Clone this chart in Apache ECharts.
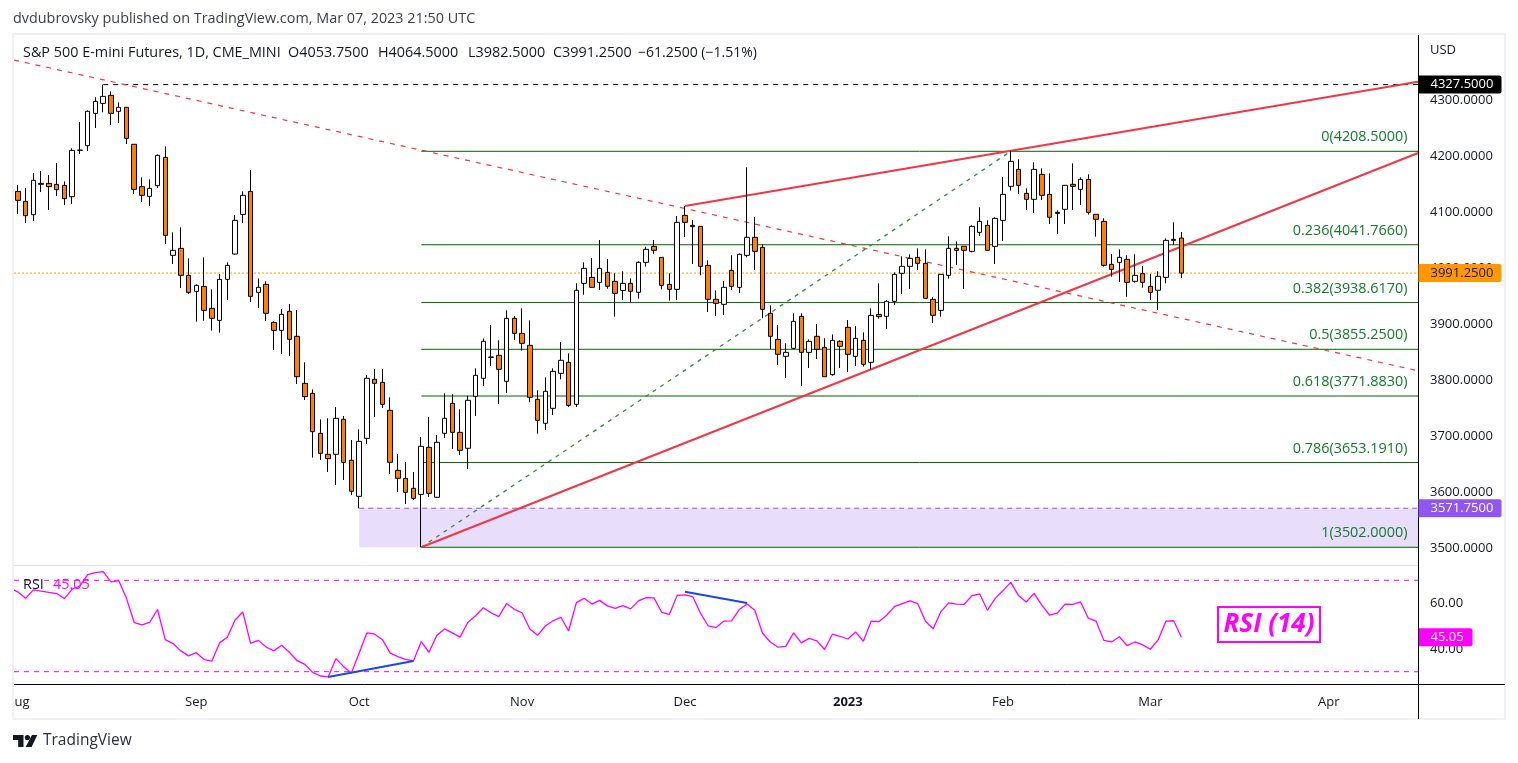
<!DOCTYPE html>
<html>
<head>
<meta charset="utf-8">
<title>S&amp;P 500 E-mini Futures</title>
<script src="https://cdn.jsdelivr.net/npm/echarts@6/dist/echarts.min.js"></script>
<style>
  html, body { margin: 0; padding: 0; background: #fff; }
  #main { width: 1518px; height: 763px; }
</style>
</head>
<body>
<div id="main"></div>
<script>
// daily candles, first one is Aug 1 2022
const opens = [
  4137,4119.2,4095.4,4151.3,4151.3,4149.5,4147.7,4127.5,4210.2,4218.5,
  4276.2,4294,4308.3,4279.8,4287,4221,4145.4,4128.1,4147.1,4197.7,
  4022.9,4035.3,3987.2,3958.6,3967.5,3928.3,3906.9,3980,4025.2,4096,
  4137,3956.8,3971.1,3903.3,3889,3923,3878.4,3794.5,3776.7,3705.3,
  3667.9,3667.9,3730.3,3657.2,3592.9,3696.4,3801.7,3796.3,3746.4,3639.3,
  3625,3607.2,3596.5,3680.4,3591.2,3705.3,3758.9,3707.1,3678.6,3771.4,
  3803.5,3841.5,3844.5,3798.1,3910.5,3883.7,3862.3,3766,3723.2,3749.9,
  3812.4,3832,3757.1,3972.9,3983.6,3974.7,3992.5,3976.5,3960.4,3972.9,
  3956.9,4010.4,4038.9,4019.3,3971.1,3962.2,4094.2,4076.4,4074.6,4005,
  3944.4,3935.5,3996.1,3965.8,4022.9,4055,4037.1,3919.4,3873,3842.7,
  3857,3914,3849.8,3878.4,3858.7,3810,3869.5,3894.4,3842.7,3871.2,
  3832,3917.6,3914,3940.8,3990.8,4003.3,4019.3,4008.6,3944.4,3924.8,
  3987.2,4035.4,4039,4030,4063.9,4076.4,4038.9,4085.3,4146,4176.3,
  4133.5,4122.8,4167.4,4131.7,4099.6,4105,4149.6,4140.6,4158.5,4096.1,
  4083.5,4006.8,4010.4,4015.8,3976.5,3990.2,3967.6,3960.5,3983.6,4051.4,
  4053.75
];
const highs = [
  4148.3,4143,4169.7,4173.3,4166.2,4187.6,4154.9,4213.8,4260.7,4281.5,
  4304.7,4327.5,4315.4,4295.8,4287,4221,4162,4158.4,4203,4217.3,
  4063.9,4072.8,4017.5,3971.1,4019.3,3962.2,3989.5,4010.4,4094.8,4137,
  4175.1,3981.8,3976.5,3905.1,3927.1,3936,3925.4,3832,3783.8,3730.3,
  3732.1,3752.3,3736.3,3693.4,3712.5,3809.4,3820.1,3820.1,3769.6,3668.5,
  3654.2,3636.4,3698.8,3734.5,3702.4,3776.7,3774.9,3748.2,3772.5,3821.3,
  3874.8,3898.6,3871.3,3924.8,3914.7,3928.4,3906.9,3782,3805.2,3821.3,
  3868.3,3848,3973,4010.4,4018.1,4050.2,4016.3,3990.8,3994.3,3981.8,
  4012.2,4038.3,4050.2,4019.3,3990.8,4093,4110.9,4085.9,4074.6,4014,
  3960.4,3977.1,4022.9,4026.4,4179.9,4091.3,4042.5,3933.7,3898.6,3865.9,
  3919.4,3919.4,3873,3900.4,3874.8,3881.9,3871.2,3907.5,3896.8,3885.5,
  3928.3,3973,3943.2,3992.6,4021.1,4024.7,4035.4,4033.6,3948,3989,
  4056.8,4047.9,4039,4076.4,4108.5,4085.3,4090.7,4162.6,4208.5,4194.2,
  4142.4,4188.8,4178.1,4169.2,4103.2,4148.4,4187,4162,4167.4,4096.1,
  4088.9,4025.3,4033.6,4022.9,4024.7,4003.9,3989.6,3994.4,4053.2,4081.8,
  4064.5
];
const lows = [
  4096.6,4080.5,4084.1,4135.8,4103.7,4128.7,4112.6,4114.4,4203.6,4209,
  4250,4278,4255.4,4259,4221.5,4132.3,4118,4110.9,4143,4043.1,
  4007.4,3964.6,3953.9,3904.5,3906.3,3888.4,3884.9,3943.2,4024,4080.5,
  3939.6,3928.9,3905.7,3853.9,3846.8,3843.2,3793.4,3764.8,3661.9,3657.8,
  3636.4,3613.2,3622.1,3595.3,3571.5,3686.3,3734.5,3750.5,3632.8,3600.7,
  3579.3,3586.4,3502,3591.8,3590,3697,3677.4,3666.7,3641.7,3736.3,
  3789.8,3825.5,3757.7,3777.3,3871.9,3852.8,3760.7,3704.7,3711.3,3738,
  3801.7,3752.3,3752.6,3952.7,3965.8,3961,3963.4,3913.5,3943.2,3939,
  3945.6,4002.7,4025.3,3962.2,3942,3943.2,4055.6,4007.4,3987.2,3921.8,
  3914.6,3916.4,3961,3955.7,4019.3,3996.7,3910.5,3855.2,3827.2,3804,
  3855.2,3789.8,3821.9,3838,3806.4,3808.2,3821.9,3814.7,3825.4,3824.3,
  3819.5,3909.9,3891.5,3934.3,3953.9,3962.8,3996.7,3946.2,3902.2,3913.5,
  3981.3,4005.6,3962.8,4028.2,4057.4,4031.8,4007.4,4048.5,4138.3,4132.3,
  4103.8,4098.4,4121.6,4078.8,4061,4078.8,4103.8,4112.7,4095.5,4056.2,
  4002.7,3984.8,3975.3,3949.1,3974.1,3965.2,3943.2,3925.4,3973,4041.3,
  3982.5
];
const closes = [
  4121,4093.6,4156.7,4149.5,4145.4,4140,4124,4210.2,4210.7,4279.8,
  4297.6,4306.5,4276.2,4286.9,4231.6,4140.6,4129.9,4142.4,4201.3,4058.5,
  4031.8,3987.2,3956.8,3969.3,3924.7,3910.5,3980,4005,4085.3,4129.9,
  3949.7,3965.8,3919.4,3889,3917.6,3873,3806.4,3770.8,3708.3,3669.6,
  3660.1,3732.1,3653.6,3601.9,3691,3803.5,3794.5,3757.1,3653.6,3625,
  3600.1,3589.4,3682.2,3598.3,3689.3,3732.1,3707.1,3675,3764.2,3808.8,
  3869.5,3840.9,3819.5,3910.5,3883.7,3865.9,3769.6,3728.5,3780.3,3815.9,
  3835.6,3755.3,3960.5,3999.7,3965.8,3999.7,3967.6,3955.1,3972.9,3958.7,
  4010.4,4033.6,4031.8,3969.4,3962.2,4081.8,4081.8,4074,4003.2,3944.4,
  3937.2,3965.8,3967.6,4024.7,4055,4030,3926.5,3878.4,3846.3,3849.8,
  3905.1,3849.8,3869.5,3855.2,3806.4,3871.2,3860.5,3846.3,3874.8,3828.4,
  3915.8,3913.5,3940.8,3989,4003.3,4017.5,4008.6,3946.2,3915.8,3989,
  4035.4,4031.8,4031.8,4074.6,4083.5,4031.8,4088.9,4131.7,4190.6,4147.8,
  4122.8,4176.3,4129.9,4090.7,4097.8,4147.8,4146,4158.5,4099.6,4087.1,
  4005.1,3997.9,4019.3,3974.7,3987.2,3974.7,3956.9,3985.4,4049.6,4049.6,
  3991.25
];
const rsiValues = [
  64.9,62.1,65.8,65.3,64.7,64.2,62,66.1,67.5,72.5,
  73.4,73.8,69.3,69.9,62.1,51.5,50.5,51.6,57.2,44,
  42.3,39.1,36.9,38.3,35.3,34.6,42.6,45.1,52.6,56.1,
  42.4,43.7,40.8,39.1,41.6,38.5,34.8,33.2,29.7,28.1,
  27.7,35.7,32.2,29.4,38.2,47,46.4,44,38.1,36.6,
  35.4,34.7,43.2,38.5,45.8,48.7,47,45.1,51.5,54.5,
  58,55.8,54.1,59.8,57.3,55.8,48.7,45.9,50,52.3,
  53.8,47.8,60.2,62.1,59.6,61.2,58.8,57.7,58.9,57.5,
  61,62.4,62.3,56,55.1,63.4,63.6,62.9,55.6,50,
  49.3,52.1,52.2,57.2,59.6,56.9,46.8,43,40.7,41.1,
  47,42.6,44.6,43.5,39.7,46.4,45.5,44.3,47.4,43.3,
  52.1,51.9,54.7,58.5,59.8,61,59.8,52.1,48.8,56.3,
  60.1,59.6,59.5,63.3,64,56.9,62.1,65.5,69.1,63.3,
  60.5,64.3,59.1,54.8,55.6,59.6,59.5,60.5,53.4,52.1,
  43.7,43,45.3,41.4,43,41.7,39.8,43.9,52.1,52.3,
  45.05
];
const rsiLead = 65.8;

// x axis: 181 trading-day slots, month labels sit on the first session of the month
const slotCount = 181;
const monthLabels = {0:'Aug',23:'Sep',44:'Oct',65:'Nov',86:'Dec',107:'2023',127:'Feb',146:'Mar',169:'Apr'};
const priceTicks = [3500,3600,3700,3800,3900,4000,4100,4200,4300];
const rsiTicks = [40,60];

const fibLevels = ['0','0.236','0.382','0.5','0.618','0.786','1'];
const fibPrices = [4208.5,4041.766,3938.617,3855.25,3771.883,3653.191,3502];
const fibStart = 52;

const lastClose = 3991.25;
const topPrice = 4327.5;
const topStart = 11;
const zonePrice = 3571.75;
const zoneStart = 44;
const lastRsi = 45.05;

const lowerTrend = [[52,3502],[180.5,4205.4]];
const upperTrend = [[86,4110.9],[180.5,4332.6]];
const fallingTrend = [[-0.5,4371.3],[180.5,3817]];
const fibDiagonal = [[52,3502],[128,4208.5]];
const rsiBlueLow = [[40,27.7],[51,34.7]];
const rsiBlueHigh = [[86,65],[94,60.1]];

const GREEN = '#006400';
const RED = '#f23645';
const PURPLE = '#9155f0';
const MAGENTA = '#ff00ff';
const ORANGE = '#ff9800';
const TEXT = '#131722';
const FRAME = '#f0f0f6';
const FONT = '"Open Sans", "Noto Sans", sans-serif';
const RIGHT = 180.5;

const categories = [];
for (let i = 0; i < slotCount; i++) categories.push(String(i));

function lineOn(grid, pts, color, width, type, z) {
  return {
    type: 'line', xAxisIndex: grid + 2, yAxisIndex: grid, data: pts,
    symbol: 'none', silent: true, animation: false, z: z || 2,
    lineStyle: { color: color, width: width, type: type || 'solid' }
  };
}

// price tag on the right axis, the label is what shows
function tag(grid, value, bg, fg) {
  return {
    type: 'scatter', xAxisIndex: grid + 2, yAxisIndex: grid, data: [[RIGHT, value]],
    symbolSize: 1, itemStyle: { color: 'transparent', opacity: 1 }, silent: true, z: 20,
    label: {
      show: true, position: 'right', distance: 0,
      formatter: value.toFixed(grid ? 2 : 4),
      color: fg, fontFamily: FONT, fontSize: 13,
      backgroundColor: bg, borderRadius: [0, 2, 2, 0],
      width: grid ? 42 : 71, height: 18, lineHeight: 18, padding: [0, 0, 0, 12]
    }
  };
}

const series = [];

// purple zone under everything
series.push({
  type: 'line', xAxisIndex: 2, yAxisIndex: 0, data: [[zoneStart, zonePrice], [RIGHT, zonePrice]],
  symbol: 'none', silent: true, z: 1,
  lineStyle: { color: PURPLE, width: 1, type: [5, 4] },
  markArea: {
    silent: true, z: 1,
    itemStyle: { color: '#e8defb' },
    data: [[{ coord: [zoneStart, zonePrice] }, { coord: [RIGHT, 3502] }]]
  }
});

fibPrices.forEach(function (p) {
  series.push(lineOn(0, [[fibStart, p], [RIGHT, p]], GREEN, 1));
});
series.push({
  type: 'scatter', xAxisIndex: 2, yAxisIndex: 0, symbolSize: 1, silent: true, z: 6,
  itemStyle: { color: 'transparent', opacity: 1 },
  data: fibPrices.map(function (p, i) { return { value: [RIGHT, p], name: fibLevels[i] + '(' + p.toFixed(4) + ')' }; }),
  label: {
    show: true, position: 'left', distance: 0, offset: [-10, -14],
    formatter: '{b}', color: '#137a2b', fontFamily: FONT, fontSize: 14.4
  }
});

series.push(lineOn(0, fibDiagonal, '#2e8b43', 1.3, [4, 5]));
series.push(lineOn(0, [[-0.5, lastClose], [RIGHT, lastClose]], ORANGE, 1, [2, 2]));
series.push(lineOn(0, [[topStart, topPrice], [RIGHT, topPrice]], '#000', 1, [5, 5]));
series.push(lineOn(0, fallingTrend, RED, 1.2, [5, 6]));
series.push(lineOn(0, lowerTrend, RED, 2));
series.push(lineOn(0, upperTrend, RED, 2));

series.push({
  type: 'candlestick', xAxisIndex: 0, yAxisIndex: 0, barWidth: 5, z: 5,
  data: opens.map(function (o, i) { return [o, closes[i], lows[i], highs[i]]; }),
  itemStyle: {
    color: '#ffffff', color0: '#ff7f00',
    borderColor: '#000', borderColor0: '#000', borderColorDoji: '#000', borderWidth: 1
  }
});

series.push(tag(0, topPrice, '#000000', '#ffffff'));
series.push(tag(0, lastClose, ORANGE, TEXT));
series.push(tag(0, zonePrice, PURPLE, '#ffffff'));

// RSI pane
series.push(lineOn(1, [[-0.5, 70], [RIGHT, 70]], MAGENTA, 1, [5, 5]));
series.push(lineOn(1, [[-0.5, 30], [RIGHT, 30]], MAGENTA, 1, [5, 5]));
series.push(lineOn(1, [[-0.6, rsiLead]].concat(rsiValues.map(function (v, i) { return [i, v]; })), MAGENTA, 1.3, 'solid', 3));
series.push(lineOn(1, rsiBlueLow, '#1848e0', 2, 'solid', 4));
series.push(lineOn(1, rsiBlueHigh, '#1848e0', 2, 'solid', 4));
series.push(tag(1, lastRsi, MAGENTA, '#ffffff'));

function text(x, y, str, style) {
  return {
    type: 'text', x: x, y: y, z: 50, silent: true,
    style: Object.assign({ text: str, fill: TEXT, font: '14.4px ' + FONT, textVerticalAlign: 'middle' }, style || {})
  };
}

const chart = echarts.init(document.getElementById('main'), null, { renderer: 'canvas' });
chart.setOption({
  backgroundColor: '#ffffff',
  animation: false,
  grid: [
    { left: 14, top: 35, width: 1404, height: 530 },
    { left: 14, top: 566, width: 1404, height: 118 }
  ],
  xAxis: [
    {
      type: 'category', gridIndex: 0, data: categories, position: 'bottom',
      axisLine: { onZero: false, lineStyle: { color: '#e0e3eb' } },
      axisTick: { show: false }, axisLabel: { show: false }, splitLine: { show: false }
    },
    {
      type: 'category', gridIndex: 1, data: categories, position: 'bottom',
      axisLine: { onZero: false, lineStyle: { color: '#000' } },
      axisTick: { show: false }, splitLine: { show: false },
      axisLabel: {
        color: TEXT, fontFamily: FONT, fontSize: 13, margin: 12,
        interval: function (i) { return monthLabels[i] !== undefined; },
        formatter: function (v) {
          const s = monthLabels[v];
          return s === '2023' ? '{b|' + s + '}' : s;
        },
        rich: { b: { fontWeight: 'bold', fontFamily: FONT, fontSize: 13, color: TEXT } }
      }
    },
    { type: 'value', gridIndex: 0, show: false, position: 'top', min: -0.5, max: RIGHT, splitLine: { show: false } },
    { type: 'value', gridIndex: 1, show: false, position: 'top', min: -0.5, max: RIGHT, splitLine: { show: false } }
  ],
  yAxis: [
    {
      type: 'value', gridIndex: 0, position: 'right', min: 3470.4, max: 4416, scale: true,
      axisLine: { show: true, onZero: false, lineStyle: { color: '#000' } },
      axisTick: { show: false }, splitLine: { show: false },
      axisLabel: {
        customValues: priceTicks, margin: 12, color: TEXT, fontFamily: FONT, fontSize: 13,
        formatter: function (v) { return v.toFixed(4); }
      }
    },
    {
      type: 'value', gridIndex: 1, position: 'right', min: 24.6, max: 76.26, scale: true,
      axisLine: { show: true, onZero: false, lineStyle: { color: '#000' } },
      axisTick: { show: false }, splitLine: { show: false },
      axisLabel: {
        customValues: rsiTicks, margin: 12, color: TEXT, fontFamily: FONT, fontSize: 13,
        formatter: function (v) { return v.toFixed(2); }
      }
    }
  ],
  series: series,
  graphic: [
    // frame around the chart, it also cuts the Aug label on the left
    { type: 'rect', z: 40, silent: true, shape: { x: 0, y: 686, width: 12, height: 32 }, style: { fill: '#fff' } },
    { type: 'rect', z: 41, silent: true, shape: { x: 13, y: 34, width: 1492, height: 685 }, style: { fill: 'none', stroke: FRAME, lineWidth: 2 } },
    { type: 'line', z: 42, silent: true, shape: { x1: 1418.5, y1: 565, x2: 1418.5, y2: 719 }, style: { stroke: '#000', lineWidth: 1 } },
    { type: 'line', z: 42, silent: true, shape: { x1: 1418, y1: 684.5, x2: 1505, y2: 684.5 }, style: { stroke: '#000', lineWidth: 1 } },

    text(13, 19, 'dvdubrovsky published on TradingView.com, Mar 07, 2023 21:50 UTC', { fill: '#3a3e4a' }),
    text(23, 53, 'S&P 500 E-mini Futures, 1D, CME_MINI'),
    text(288, 53, 'O4053.7500'),
    text(378, 53, 'H4064.5000'),
    text(468, 53, 'L3982.5000'),
    text(553, 53, 'C3991.2500'),
    text(638, 53, '\u221261.2500 (\u22121.51%)', { font: '14px ' + FONT }),
    text(1430, 50, 'USD', { font: '13px ' + FONT }),
    text(23, 585, 'RSI'),
    text(53, 585, '45.05', { fill: MAGENTA }),

    { type: 'rect', z: 45, silent: true, shape: { x: 1218, y: 607, width: 102, height: 35 }, style: { fill: '#fff', stroke: MAGENTA, lineWidth: 2 } },
    text(1269, 625, 'RSI (14)', { fill: MAGENTA, font: 'italic bold 26px ' + FONT, textAlign: 'center' }),

    // TradingView logo
    { type: 'polygon', z: 50, silent: true, shape: { points: [[13,735],[23.5,735],[23.5,747],[18.2,747],[18.2,740],[13,740]] }, style: { fill: '#131722' } },
    { type: 'polygon', z: 50, silent: true, shape: { points: [[32,735],[37.3,735],[31.6,747],[25.6,747]] }, style: { fill: '#131722' } },
    { type: 'circle', z: 50, silent: true, shape: { cx: 27.4, cy: 737.6, r: 2.6 }, style: { fill: '#131722' } },
    text(43, 741, 'TradingView', { fill: '#2a2e39', font: '15.5px ' + FONT })
  ]
});
</script>
</body>
</html>
